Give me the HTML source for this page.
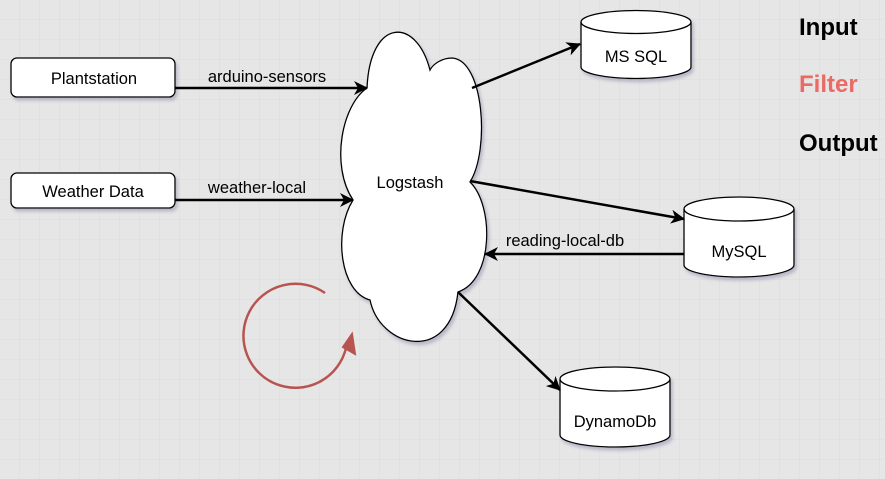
<!DOCTYPE html>
<html><head><meta charset="utf-8"><style>
html,body{margin:0;padding:0;background:#e6e6e6;}
svg{display:block;font-family:"Liberation Sans",sans-serif;}
</style></head><body>
<svg width="885" height="479" viewBox="0 0 885 479" xmlns="http://www.w3.org/2000/svg">
<defs>
<pattern id="g" width="20" height="20" patternUnits="userSpaceOnUse"><path d="M20 0V20H0" fill="none" stroke="#dcdcdc" stroke-width="1"/></pattern>
<marker id="a" markerWidth="16" markerHeight="14" refX="13" refY="7" orient="auto" markerUnits="userSpaceOnUse"><path d="M0,0 L14,7 L0,14 L4,7Z" fill="#000"/></marker>
<filter id="s" x="-10%" y="-10%" width="130%" height="130%"><feDropShadow dx="2" dy="3" stdDeviation="1.5" flood-color="#8888aa" flood-opacity="0.5"/></filter>
</defs>
<rect width="885" height="479" fill="#e6e6e6"/>
<rect width="885" height="479" fill="url(#g)"/>
<g stroke="#000" stroke-width="1.3" fill="#fff" filter="url(#s)">
<rect x="11" y="58" width="164" height="39" rx="6"/>
<rect x="11" y="173" width="164" height="35" rx="6"/>
<path d="M367,88 C342,105 330,165 353,200 C333,232 340,292 370,300 C380,348 450,365 458,292 C494,280 494,205 470,182 C490,150 484,60 452,58 C442,58 433,64 430,70 C416,16 370,18 367,88Z"/>
<path d="M581,22 A55,11.5 0 0 1 691,22 V67 A55,11.5 0 0 1 581,67Z"/>
<path d="M684,209 A55,12 0 0 1 794,209 V265 A55,12 0 0 1 684,265Z"/>
<path d="M560,379 A55,12 0 0 1 670,379 V435 A55,12 0 0 1 560,435Z"/>
</g>
<g fill="none" stroke="#000" stroke-width="1.3">
<path d="M581,22 A55,11.5 0 0 0 691,22"/>
<path d="M684,209 A55,12 0 0 0 794,209"/>
<path d="M560,379 A55,12 0 0 0 670,379"/>
</g>
<g stroke="#000" stroke-width="2.5" fill="none">
<line x1="175" y1="88" x2="367" y2="88" marker-end="url(#a)"/>
<line x1="175" y1="200" x2="353" y2="200" marker-end="url(#a)"/>
<line x1="472" y1="88" x2="580" y2="44" marker-end="url(#a)"/>
<line x1="470" y1="181" x2="684" y2="219" marker-end="url(#a)"/>
<line x1="684" y1="254" x2="485" y2="254" marker-end="url(#a)"/>
<line x1="458" y1="292" x2="560" y2="390" marker-end="url(#a)"/>
</g>
<path d="M325,293 A52,52 0 1 0 346,348" fill="none" stroke="#b85450" stroke-width="2.5"/>
<path d="M352,334 L355,354 L343,347Z" fill="#b85450" stroke="#b85450" stroke-width="2"/>
<g font-size="16.5" fill="#000" text-anchor="middle">
<text x="94" y="84">Plantstation</text>
<text x="93" y="197">Weather Data</text>
<text x="410" y="188">Logstash</text>
<text x="636" y="62">MS SQL</text>
<text x="739" y="257">MySQL</text>
<text x="615" y="427">DynamoDb</text>
<text x="267" y="82">arduino-sensors</text>
<text x="257" y="193">weather-local</text>
<text x="565" y="246">reading-local-db</text>
</g>
<g font-size="24" font-weight="bold">
<text x="799" y="35" fill="#000">Input</text>
<text x="799" y="92" fill="#ea6b66">Filter</text>
<text x="799" y="151" fill="#000">Output</text>
</g>
</svg>
</body></html>
